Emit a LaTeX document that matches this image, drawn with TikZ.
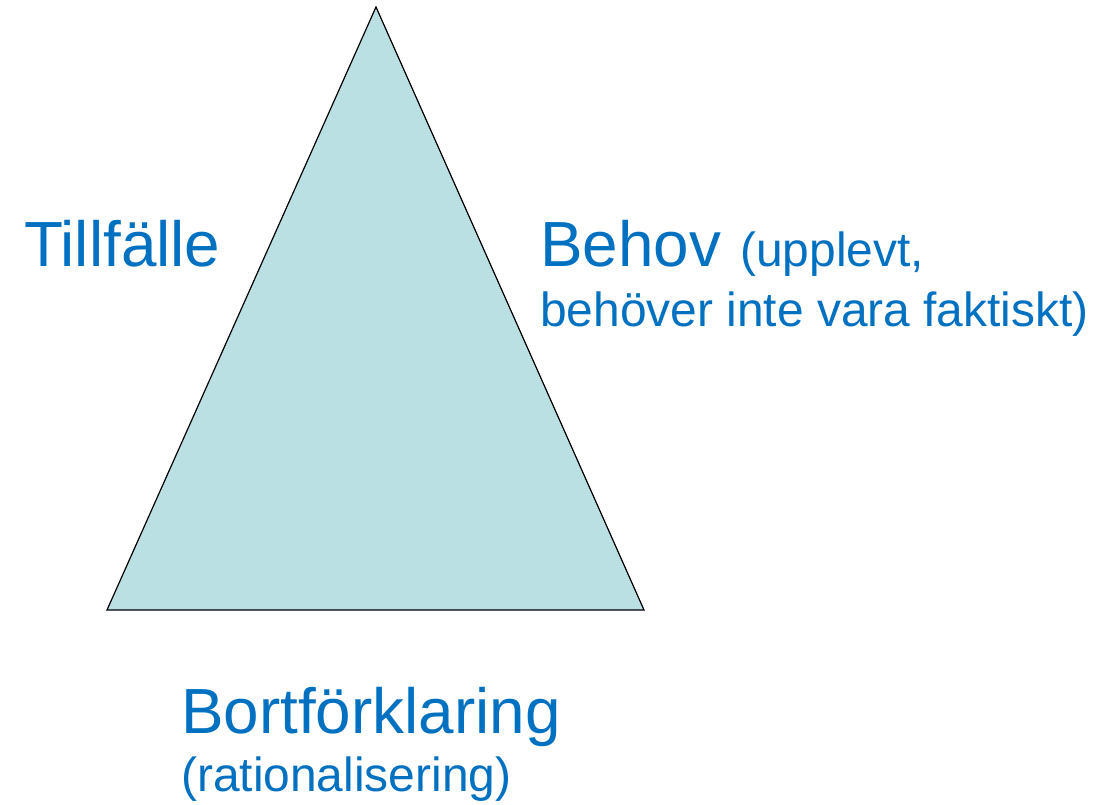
\documentclass[tikz,border=0pt]{standalone}
\usepackage{fontspec}
\setmainfont{Liberation Sans}
\definecolor{txtblue}{HTML}{0070C0}
\definecolor{trifill}{HTML}{BBE0E3}
\begin{document}
\begin{tikzpicture}[x=1pt,y=1pt,
  big/.style={anchor=base west,inner sep=0pt,text=txtblue,font=\fontsize{63.8}{72}\selectfont},
  small/.style={anchor=base west,inner sep=0pt,text=txtblue,font=\fontsize{47.9}{57}\selectfont}]
\useasboundingbox (0,0) rectangle (1110,804);
\coordinate (apex) at (376,797);
\coordinate (bl) at (107,194);
\coordinate (br) at (644,194);
\draw[fill=trifill,line width=1.2pt,line join=miter] (apex) -- (br) -- (bl) -- cycle;
\node[big] (till) at (24,537) {Tillfälle};
\node[big] (behov) at (540,537) {Behov};
\node[small] (upp) at (740,537) {(upplevt,};
\node[small] (beh) at (540,477) {behöver inte vara faktiskt)};
\node[big] (bort) at (181,71) {Bortförklaring};
\node[small] (rat) at (181,13) {(rationalisering)};
\end{tikzpicture}
\end{document}
